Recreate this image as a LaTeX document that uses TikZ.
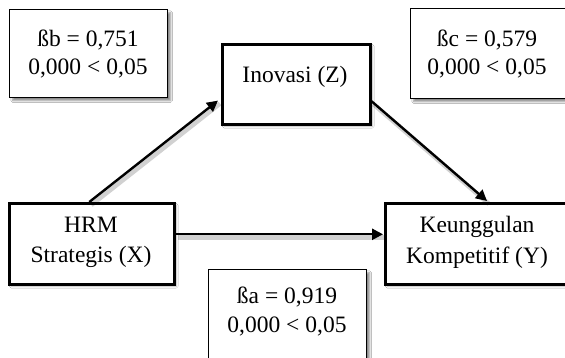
\documentclass[tikz,border=0pt]{standalone}
\usepackage{fontspec}
\setmainfont{Liberation Serif}
\usetikzlibrary{shadows.blur,arrows.meta}
\newcommand{\ltsp}{\hspace{6pt}<\hspace{6pt}}
\begin{document}
\begin{tikzpicture}[x=1pt,y=-1pt,
  valbox/.style={draw=black,line width=1.3pt,fill=white,inner sep=0pt,anchor=north west,
    blur shadow={shadow xshift=3pt,shadow yshift=-3pt,shadow blur steps=6,shadow opacity=45}},
  mainbox/.style={draw=black,line width=2.6pt,fill=white,inner sep=0pt,anchor=north west,
    blur shadow={shadow xshift=2pt,shadow yshift=-2pt,shadow blur steps=5,shadow opacity=30}},
  txt/.style={anchor=base,inner sep=0pt,font=\fontsize{23.5}{28}\selectfont},
  arr/.style={line width=2.4pt,-{Triangle[length=11pt,width=11pt]},
    preaction={draw=black,opacity=0.18,line width=4.5pt,-,transform canvas={shift={(2pt,-3pt)}}}}]
\useasboundingbox[fill=white] (0,0) rectangle (565,358);
% value boxes
\node[valbox,minimum width=158pt,minimum height=88pt] (bb) at (9,9) {};
\node[valbox,minimum width=162pt,minimum height=90pt] (bc) at (410,8) {};
\node[valbox,minimum width=158pt,minimum height=120pt] (ba) at (208,269) {};
% main boxes
\node[mainbox,minimum width=148pt,minimum height=80pt] (Z) at (221,43) {};
\node[mainbox,minimum width=165pt,minimum height=81pt] (X) at (8,202) {};
\node[mainbox,minimum width=190pt,minimum height=81pt] (Y) at (384,202) {};
% texts
\node[txt] (bb1) at (88,47) {ßb = 0,751};
\node[txt] (bb2) at (88,75) {0,000\ltsp0,05};
\node[txt] (bc1) at (487,47) {ßc = 0,579};
\node[txt] (bc2) at (487,75) {0,000\ltsp0,05};
\node[txt] (ba1) at (287,303) {ßa = 0,919};
\node[txt] (ba2) at (287,332) {0,000\ltsp0,05};
\node[txt] (Zt) at (295,83) {Inovasi (Z)};
\node[txt] (Xt1) at (91,233) {HRM};
\node[txt] (Xt2) at (91,262) {Strategis (X)};
\node[txt] (Yt1) at (477,233) {Keunggulan};
\node[txt] (Yt2) at (477,263) {Kompetitif (Y)};
% connectors
\draw[arr] ([xshift=-2.5pt]X.north) -- ([xshift=-3pt,yshift=25pt]Z.south west);
\draw[arr] ([yshift=-17pt]Z.east) -- ([xshift=103pt,yshift=1pt]Y.north west);
\draw[arr] ([yshift=9.5pt]X.east) -- ([yshift=9.5pt,xshift=-1pt]X.east -| Y.west);
\end{tikzpicture}
\end{document}
